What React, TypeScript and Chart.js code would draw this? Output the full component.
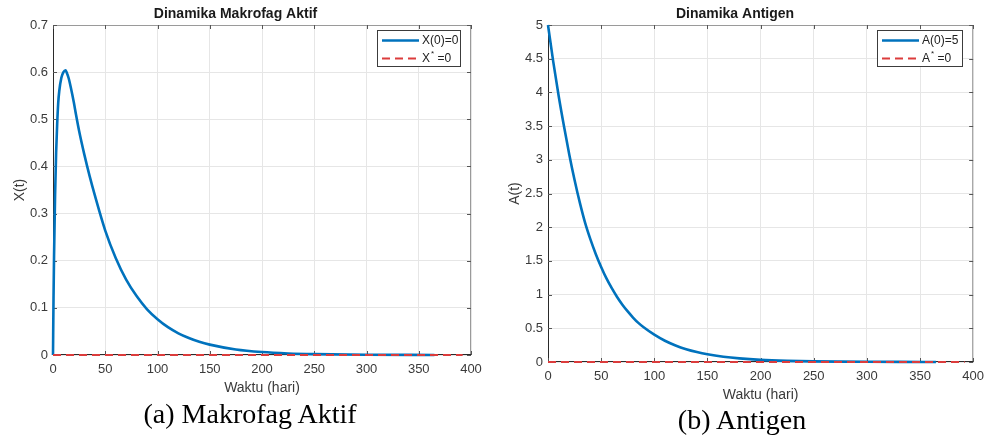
import React, { useEffect, useRef } from 'react';
import { Chart, registerables } from 'chart.js';

Chart.register(...registerables);

// ---------- data ----------
const xTicks = [0, 50, 100, 150, 200, 250, 300, 350, 400];

const macroTime = [0, 0.5, 1, 2, 3, 4, 5, 6, 8, 10, 12, 13, 15, 17, 20, 22, 25, 30, 35, 40, 50, 60, 70, 80, 90, 100, 110, 120, 130, 140, 150, 175, 200, 225, 250, 300, 365];
const macroX = [0, 0.12, 0.21, 0.34, 0.43, 0.49, 0.535, 0.56, 0.588, 0.6, 0.604, 0.6, 0.587, 0.568, 0.535, 0.51, 0.475, 0.425, 0.38, 0.339, 0.264, 0.206, 0.16, 0.125, 0.097, 0.076, 0.059, 0.046, 0.036, 0.028, 0.022, 0.0116, 0.0062, 0.0033, 0.0018, 0.0005, 0.0001];
const macroYTicks = [0, 0.1, 0.2, 0.3, 0.4, 0.5, 0.6, 0.7];

const antigenTime = [0, 5, 10, 15, 20, 25, 30, 35, 40, 45, 50, 55, 60, 65, 70, 75, 80, 85, 90, 100, 110, 120, 130, 140, 150, 165, 180, 200, 225, 250, 275, 300, 330, 365];
const antigenA = [5, 4.45, 3.95, 3.5, 3.08, 2.7, 2.36, 2.06, 1.815, 1.6, 1.41, 1.24, 1.095, 0.965, 0.85, 0.75, 0.66, 0.58, 0.515, 0.405, 0.315, 0.245, 0.19, 0.148, 0.115, 0.079, 0.054, 0.032, 0.017, 0.009, 0.005, 0.0027, 0.0012, 0.0005];
const antigenYTicks = [0, 0.5, 1, 1.5, 2, 2.5, 3, 3.5, 4, 4.5, 5];

const eqTime = [0, 392];
const eqValue = [0, 0];

// ---------- styling ----------
const BLUE = '#0072BD';
const RED = '#dc3c3c';
const TEXT = '#3a3a3a';
const SANS = '"Liberation Sans", Arial, Helvetica, sans-serif';

const framePlugin = {
  id: 'matlabFrame',
  beforeDatasetsDraw(chart: any) {
    const { ctx, chartArea: a, scales } = chart;
    ctx.save();
    ctx.lineWidth = 1;
    ctx.strokeStyle = '#9a9a9a';
    ctx.beginPath();
    ctx.moveTo(a.left, a.top + 0.5);
    ctx.lineTo(a.right - 0.5, a.top + 0.5);
    ctx.lineTo(a.right - 0.5, a.bottom);
    ctx.stroke();
    ctx.strokeStyle = '#2a2a2a';
    ctx.beginPath();
    ctx.moveTo(a.left + 0.5, a.top);
    ctx.lineTo(a.left + 0.5, a.bottom - 0.5);
    ctx.lineTo(a.right, a.bottom - 0.5);
    ctx.stroke();
    const tl = 4;
    ctx.beginPath();
    ctx.strokeStyle = '#555';
    scales.x.ticks.forEach((t: any) => {
      const px = Math.round(scales.x.getPixelForValue(t.value)) + 0.5;
      ctx.moveTo(px, a.top);
      ctx.lineTo(px, a.top + tl);
      ctx.moveTo(px, a.bottom);
      ctx.lineTo(px, a.bottom - tl);
    });
    scales.y.ticks.forEach((t: any) => {
      const py = Math.round(scales.y.getPixelForValue(t.value)) + 0.5;
      ctx.moveTo(a.left, py);
      ctx.lineTo(a.left + tl, py);
      ctx.moveTo(a.right, py);
      ctx.lineTo(a.right - tl, py);
    });
    ctx.stroke();
    ctx.restore();
  },
};

const legendPlugin = {
  id: 'insideLegend',
  afterDraw(chart: any, _args: any, opts: any) {
    const { ctx, chartArea: a } = chart;
    const w = opts.width;
    const h = opts.height;
    const x0 = Math.round(a.right - opts.right - w);
    const y0 = Math.round(a.top + opts.top);
    ctx.save();
    ctx.fillStyle = '#ffffff';
    ctx.fillRect(x0, y0, w, h);
    ctx.strokeStyle = '#3c3c3c';
    ctx.lineWidth = 1;
    ctx.strokeRect(x0 + 0.5, y0 + 0.5, w - 1, h - 1);
    chart.data.datasets.forEach((ds: any, i: number) => {
      const y = y0 + 10.5 + i * 18;
      ctx.beginPath();
      ctx.strokeStyle = ds.borderColor;
      ctx.lineWidth = ds.borderWidth;
      ctx.setLineDash(ds.borderDash || []);
      ctx.moveTo(x0 + 5, y);
      ctx.lineTo(x0 + 42, y);
      ctx.stroke();
      ctx.setLineDash([]);
      ctx.fillStyle = '#222';
      ctx.textBaseline = 'middle';
      ctx.textAlign = 'left';
      const label: string = ds.label;
      let x = x0 + 45;
      const star = label.indexOf('*');
      ctx.font = `12px ${SANS}`;
      if (star < 0) {
        ctx.fillText(label, x, y);
      } else {
        const pre = label.slice(0, star);
        const post = label.slice(star + 1);
        ctx.fillText(pre, x, y);
        x += ctx.measureText(pre).width;
        ctx.font = `8px ${SANS}`;
        ctx.fillText('*', x + 1, y - 5);
        x += ctx.measureText('*').width + 1;
        ctx.font = `12px ${SANS}`;
        ctx.fillText(post, x, y);
      }
    });
    ctx.restore();
  },
};

type PanelProps = {
  left: number;
  width: number;
  height: number;
  padRight: number;
  title: string;
  yTitle: string;
  time: number[];
  values: number[];
  yTicks: number[];
  label: string;
  eqLabel: string;
  legendWidth: number;
};

function Panel(p: PanelProps) {
  const ref = useRef<HTMLCanvasElement | null>(null);
  useEffect(() => {
    if (!ref.current) return;
    const yMax = p.yTicks[p.yTicks.length - 1];
    const chart = new Chart(ref.current, {
      type: 'line',
      data: {
        datasets: [
          {
            label: p.label,
            data: p.time.map((t, i) => ({ x: t, y: p.values[i] })),
            borderColor: BLUE,
            borderWidth: 2.6,
            pointRadius: 0,
            cubicInterpolationMode: 'monotone',
            fill: false,
            clip: 6,
            order: 1,
          } as any,
          {
            label: p.eqLabel,
            data: eqTime.map((t, i) => ({ x: t, y: eqValue[i] })),
            borderColor: RED,
            borderWidth: 2,
            borderDash: [8, 5],
            pointRadius: 0,
            fill: false,
            clip: 6,
            order: 0,
          } as any,
        ],
      },
      options: {
        animation: false,
        responsive: false,
        maintainAspectRatio: false,
        layout: { padding: { left: 0, right: p.padRight, top: 0, bottom: 0 } },
        plugins: {
          legend: { display: false },
          tooltip: { enabled: false },
          title: {
            display: true,
            text: p.title,
            color: '#1a1a1a',
            font: { family: SANS, size: 14, weight: 'bold' },
            padding: { top: 6, bottom: 2.2 },
          },
          insideLegend: { width: p.legendWidth, height: 37, right: 10, top: 5 },
        } as any,
        scales: {
          x: {
            type: 'linear',
            min: 0,
            max: 400,
            afterBuildTicks: (s: any) => {
              s.ticks = xTicks.map((v) => ({ value: v }));
            },
            afterFit: (s: any) => {
              s.height = 45;
            },
            grid: { color: '#e6e6e6', drawTicks: false },
            border: { display: false },
            ticks: { color: TEXT, font: { family: SANS, size: 13 }, padding: 7, callback: (v: any) => String(v) },
            title: {
              display: true,
              text: 'Waktu (hari)',
              color: TEXT,
              font: { family: SANS, size: 14 },
              padding: { top: 0, bottom: 3 },
            },
          },
          y: {
            type: 'linear',
            min: 0,
            max: yMax,
            afterBuildTicks: (s: any) => {
              s.ticks = p.yTicks.map((v) => ({ value: v }));
            },
            afterFit: (s: any) => {
              s.width = 53;
            },
            grid: { color: '#e6e6e6', drawTicks: false },
            border: { display: false },
            ticks: { color: TEXT, font: { family: SANS, size: 13 }, padding: 5, callback: (v: any) => String(v) },
            title: {
              display: true,
              text: p.yTitle,
              color: TEXT,
              font: { family: SANS, size: 14 },
              padding: { top: 12, bottom: 0 },
            },
          },
        },
      } as any,
      plugins: [framePlugin, legendPlugin],
    });
    return () => chart.destroy();
  }, []);
  return (
    <canvas
      ref={ref}
      width={p.width}
      height={p.height}
      style={{ position: 'absolute', left: p.left, top: 0, width: p.width, height: p.height }}
    />
  );
}

const captionStyle = (cx: number, cy: number): React.CSSProperties => ({
  position: 'absolute',
  left: cx,
  top: cy,
  transform: 'translate(-50%, -50%)',
  fontFamily: '"Liberation Serif", "Times New Roman", serif',
  fontSize: 28,
  lineHeight: 1,
  color: '#000',
  whiteSpace: 'nowrap',
});

export default function App() {
  return (
    <div style={{ position: 'absolute', left: 0, top: 0, width: 991, height: 435, background: '#fff', overflow: 'hidden' }}>
      <Panel
        left={0}
        width={495}
        height={400}
        padRight={24}
        title="Dinamika Makrofag Aktif"
        yTitle="X(t)"
        time={macroTime}
        values={macroX}
        yTicks={macroYTicks}
        label="X(0)=0"
        eqLabel="X* =0"
        legendWidth={84}
      />
      <Panel
        left={495}
        width={496}
        height={407}
        padRight={16}
        title="Dinamika Antigen"
        yTitle="A(t)"
        time={antigenTime}
        values={antigenA}
        yTicks={antigenYTicks}
        label="A(0)=5"
        eqLabel="A* =0"
        legendWidth={86}
      />
      <div style={captionStyle(250, 414)}>(a) Makrofag Aktif</div>
      <div style={captionStyle(742, 420)}>(b) Antigen</div>
    </div>
  );
}
